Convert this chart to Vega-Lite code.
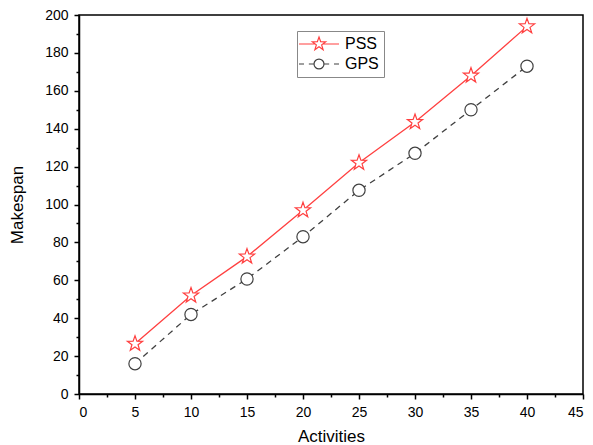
{
  "$schema": "https://vega.github.io/schema/vega-lite/v6.json",
  "autosize": "none",
  "width": 504,
  "height": 379,
  "padding": {"left": 79, "top": 15, "right": 10, "bottom": 51},
  "background": "white",
  "config": {
    "font": "Liberation Sans",
    "view": {"stroke": "black", "strokeWidth": 1.5},
    "axis": {
      "domainColor": "black",
      "domainWidth": 1.5,
      "tickColor": "black",
      "tickWidth": 1.5,
      "labelColor": "black",
      "labelFont": "Liberation Sans",
      "labelFontSize": 14,
      "titleFont": "Liberation Sans",
      "titleFontSize": 17,
      "titleFontWeight": "normal",
      "titleColor": "black",
      "grid": false,
      "labelOverlap": false
    },
    "legend": {
      "orient": "none",
      "legendX": 218,
      "legendY": 16,
      "strokeColor": "#888888",
      "padding": 5,
      "labelFont": "Liberation Sans",
      "labelFontSize": 16,
      "labelColor": "black",
      "symbolSize": 196,
      "symbolOffset": 9,
      "labelOffset": 18,
      "rowPadding": 3,
      "symbolStrokeWidth": 1.2
    }
  },
  "data": {
    "values": [
      {"activities": 5, "makespan": 26.5, "series": "PSS"},
      {"activities": 10, "makespan": 52, "series": "PSS"},
      {"activities": 15, "makespan": 72.5, "series": "PSS"},
      {"activities": 20, "makespan": 97, "series": "PSS"},
      {"activities": 25, "makespan": 122, "series": "PSS"},
      {"activities": 30, "makespan": 143.5, "series": "PSS"},
      {"activities": 35, "makespan": 168, "series": "PSS"},
      {"activities": 40, "makespan": 194, "series": "PSS"},
      {"activities": 5, "makespan": 16, "series": "GPS"},
      {"activities": 10, "makespan": 42, "series": "GPS"},
      {"activities": 15, "makespan": 60.7, "series": "GPS"},
      {"activities": 20, "makespan": 83, "series": "GPS"},
      {"activities": 25, "makespan": 107.5, "series": "GPS"},
      {"activities": 30, "makespan": 127, "series": "GPS"},
      {"activities": 35, "makespan": 150, "series": "GPS"},
      {"activities": 40, "makespan": 173, "series": "GPS"}
    ]
  },
  "encoding": {
    "x": {
      "field": "activities",
      "type": "quantitative",
      "scale": {"domain": [0, 45], "nice": false, "zero": false},
      "axis": {
        "title": "Activities",
        "values": [0, 2.5, 5, 7.5, 10, 12.5, 15, 17.5, 20, 22.5, 25, 27.5, 30, 32.5, 35, 37.5, 40, 42.5, 45],
        "labelExpr": "datum.value % 5 ? '' : datum.label",
        "tickSize": {"condition": {"test": "datum.value % 5 !== 0", "value": 3}, "value": 5},
        "labelPadding": 6,
        "titlePadding": 9
      }
    },
    "y": {
      "field": "makespan",
      "type": "quantitative",
      "scale": {"domain": [0, 200], "nice": false},
      "axis": {
        "title": "Makespan",
        "values": [0, 10, 20, 30, 40, 50, 60, 70, 80, 90, 100, 110, 120, 130, 140, 150, 160, 170, 180, 190, 200],
        "labelExpr": "datum.value % 20 ? '' : datum.label",
        "tickSize": {"condition": {"test": "datum.value % 20 !== 0", "value": 3}, "value": 5},
        "labelPadding": 6,
        "titlePadding": 18
      }
    },
    "stroke": {
      "field": "series",
      "type": "nominal",
      "scale": {"domain": ["PSS", "GPS"], "range": ["#ff4040", "#404040"]},
      "legend": {"title": null}
    }
  },
  "layer": [
    {
      "transform": [{"filter": "datum.series === 'PSS'"}],
      "mark": {"type": "line", "strokeWidth": 1.3}
    },
    {
      "transform": [{"filter": "datum.series === 'GPS'"}],
      "mark": {"type": "line", "strokeWidth": 1.3, "strokeDash": [6, 5]}
    },
    {
      "transform": [{"filter": "datum.series === 'PSS'"}],
      "mark": {"type": "point", "filled": false, "fill": "white", "fillOpacity": 1, "opacity": 1, "strokeWidth": 1.2, "size": 256,
        "shape": "M0,-1L0.235,-0.324L0.951,-0.309L0.380,0.124L0.588,0.809L0,0.4L-0.588,0.809L-0.380,0.124L-0.951,-0.309L-0.235,-0.324Z"}
    },
    {
      "transform": [{"filter": "datum.series === 'GPS'"}],
      "mark": {"type": "point", "filled": false, "fill": "white", "fillOpacity": 1, "opacity": 1, "strokeWidth": 1.2, "size": 150, "shape": "circle"}
    },
    {
      "transform": [{"filter": "datum.series === 'none'"}],
      "mark": {"type": "point", "filled": false, "opacity": 1, "strokeWidth": 1.2},
      "encoding": {
        "shape": {
          "field": "series",
          "type": "nominal",
          "scale": {"domain": ["PSS", "GPS"], "range": [
            "M-2.86,0L-0.54,0M0.54,0L2.86,0M0,-1L0.235,-0.324L0.951,-0.309L0.380,0.124L0.588,0.809L0,0.4L-0.588,0.809L-0.380,0.124L-0.951,-0.309L-0.235,-0.324Z",
            "M-2.86,0L-2.14,0M-1.45,0L-0.71,0M0.71,0L1.45,0M2.14,0L2.86,0M0.71,0A0.71,0.71,0,1,1,-0.71,0A0.71,0.71,0,1,1,0.71,0Z"
          ]},
          "legend": {"title": null}
        }
      }
    }
  ]
}
